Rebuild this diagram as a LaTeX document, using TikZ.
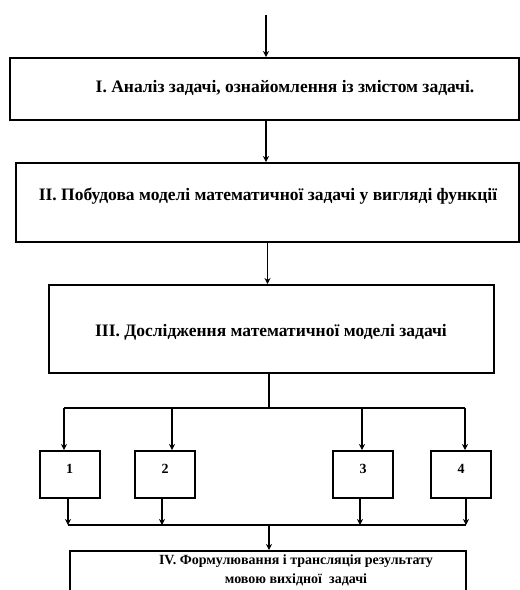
\documentclass[tikz,border=0pt]{standalone}
\usepackage{fontspec}
\setmainfont{Liberation Serif}
\usetikzlibrary{calc, positioning, shapes, arrows.meta}

\begin{document}
\begin{tikzpicture}[x=1pt, y=-1pt,
  box/.style={draw, line width=2pt, rectangle, inner sep=0pt},
  lbl/.style={font=\bfseries\fontsize{17.5}{21}\selectfont, align=center, inner sep=0pt},
  lbls/.style={font=\bfseries\fontsize{14}{19}\selectfont, align=center, inner sep=0pt},
  conn/.style={line width=1.5pt},
  arr/.style={line width=1.5pt, -{Stealth[length=6pt,width=6pt]}}]
\useasboundingbox (0,0) rectangle (520,590);
\clip (0,0) rectangle (520,590);
\node[box, minimum width=509, minimum height=62] (b1) at (264.5,89) {};
\node[box, minimum width=503, minimum height=79] (b2) at (267.5,202.5) {};
\node[box, minimum width=445, minimum height=88] (b3) at (271.5,329) {};
\node[box, minimum width=396, minimum height=70] (b4) at (268,586) {};
\node[lbl] (t1) at (285,88) {I. Аналіз задачі, ознайомлення із змістом задачі.};
\node[lbl] (t2) at (268,196) {II. Побудова моделі математичної задачі у вигляді функції};
\node[lbl] (t3) at (271,332) {III. Дослідження математичної моделі задачі};
\node[lbls] (t4) at (296,570) {IV. Формулювання і трансляція результату\\ мовою вихідної\ \ задачі};
\coordinate (in) at (266,15);
\coordinate (split) at (269,408);
\coordinate (join) at (269,525);
\draw[arr] (in) -- (in |- b1.north);
\draw[arr] (in |- b1.south) -- (in |- b2.north);
\draw[arr] (b2.south) -- (b2.south |- b3.north);
\draw[conn] (split |- b3.south) -- (split);
\foreach \n/\x/\ax/\dx in {1/69.5/64/68, 2/165/172/162, 3/363/362/360, 4/461/465/466} {
  \node[box, minimum width=60, minimum height=47] (s\n) at (\x,474.5) {};
  \node[lbls] (n\n) at (\x,469) {\n};
  \draw[arr] ([xshift={\ax-\x}]s\n.north |- split) -- ([xshift={\ax-\x}]s\n.north);
  \draw[arr] ([xshift={\dx-\x}]s\n.south) -- ([xshift={\dx-\x}]s\n.south |- join);
}
\draw[conn] ([xshift=-5.5]s1.north |- split) -- ([xshift=4]s4.north |- split);
\draw[conn] ([xshift=-1.5]s1.south |- join) -- ([xshift=5]s4.south |- join);
\draw[arr] (join) -- (join |- b4.north);
\end{tikzpicture}
\end{document}
